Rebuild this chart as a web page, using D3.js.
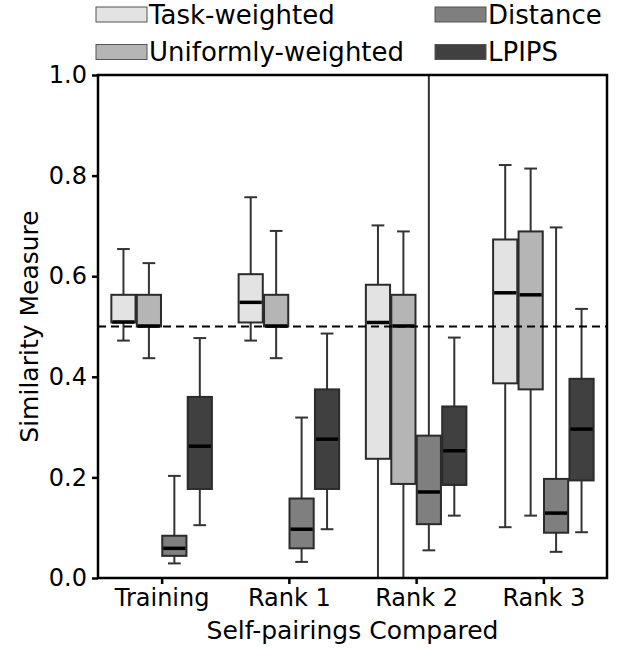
<!DOCTYPE html>
<html>
<head>
<meta charset="utf-8">
<script src="https://cdn.jsdelivr.net/npm/d3@7"></script>
<style>
  body { margin: 0; background: #fff; }
  text { font-family: "DejaVu Sans", sans-serif; }
</style>
</head>
<body>
<div id="chart"></div>
<script>
// groups on the x axis
let categories = ["Training", "Rank 1", "Rank 2", "Rank 3"];
let seriesNames = ["Task-weighted", "Uniformly-weighted", "Distance", "LPIPS"];
let seriesColors = ["#e3e3e3", "#b5b5b5", "#7f7f7f", "#404040"];
let yTicks = [0.0, 0.2, 0.4, 0.6, 0.8, 1.0];
let refLine = 0.5;

// [whisker low, q1, median, q3, whisker high] per category
let taskWeighted = [
	[0.472, 0.508, 0.509, 0.563, 0.654],
	[0.472, 0.508, 0.548, 0.604, 0.757],
	[-0.05, 0.237, 0.508, 0.583, 0.701],
	[0.101, 0.387, 0.567, 0.673, 0.821]
];
let uniformWeighted = [
	[0.437, 0.500, 0.501, 0.563, 0.626],
	[0.437, 0.500, 0.501, 0.563, 0.690],
	[-0.05, 0.187, 0.501, 0.563, 0.689],
	[0.124, 0.375, 0.563, 0.689, 0.814]
];
let distance = [
	[0.029, 0.044, 0.059, 0.084, 0.203],
	[0.032, 0.059, 0.097, 0.158, 0.319],
	[0.055, 0.107, 0.171, 0.283, 1.100],
	[0.052, 0.090, 0.129, 0.197, 0.697]
];
let lpips = [
	[0.105, 0.177, 0.262, 0.360, 0.477],
	[0.097, 0.177, 0.276, 0.375, 0.486],
	[0.124, 0.185, 0.253, 0.341, 0.478],
	[0.091, 0.194, 0.296, 0.396, 0.535]
];
let allSeries = [taskWeighted, uniformWeighted, distance, lpips];

let width = 627, height = 652;
let margin = {top: 75, right: 20, bottom: 74, left: 98};

let svg = d3.select("#chart").append("svg")
	.attr("width", width)
	.attr("height", height);

let x = d3.scaleLinear().domain([-0.5, categories.length - 0.5]).range([margin.left, width - margin.right]);
let y = d3.scaleLinear().domain([0, 1]).range([height - margin.bottom, margin.top]);

let offsets = [-0.3, -0.1, 0.1, 0.3];
let boxW = 0.19;
let capW = 0.1;

svg.append("clipPath").attr("id", "plotclip")
	.append("rect")
	.attr("x", x(-0.5)).attr("y", y(1))
	.attr("width", x(3.5) - x(-0.5)).attr("height", y(0) - y(1));

let plot = svg.append("g").attr("clip-path", "url(#plotclip)");

allSeries.forEach(function(data, s) {
	let g = plot.append("g");
	data.forEach(function(d, i) {
		let cx = i + offsets[s];
		let xc = x(cx);
		// whiskers
		g.append("line").attr("x1", xc).attr("x2", xc).attr("y1", y(d[0])).attr("y2", y(d[1]))
			.attr("stroke", "#333").attr("stroke-width", 2);
		g.append("line").attr("x1", xc).attr("x2", xc).attr("y1", y(d[3])).attr("y2", y(d[4]))
			.attr("stroke", "#333").attr("stroke-width", 2);
		// caps
		[d[0], d[4]].forEach(function(v) {
			g.append("line")
				.attr("x1", x(cx - capW / 2)).attr("x2", x(cx + capW / 2))
				.attr("y1", y(v)).attr("y2", y(v))
				.attr("stroke", "#333").attr("stroke-width", 2);
		});
		// box
		g.append("rect")
			.attr("x", x(cx - boxW / 2)).attr("width", x(boxW) - x(0))
			.attr("y", y(d[3])).attr("height", y(d[1]) - y(d[3]))
			.attr("fill", seriesColors[s])
			.attr("stroke", "#2b2b2b").attr("stroke-width", 2);
		// median
		g.append("line")
			.attr("x1", x(cx - boxW / 2) + 1).attr("x2", x(cx + boxW / 2) - 1)
			.attr("y1", y(d[2])).attr("y2", y(d[2]))
			.attr("stroke", "#000").attr("stroke-width", 3.5);
	});
});

// reference line
svg.append("line")
	.attr("x1", x(-0.5)).attr("x2", x(3.5))
	.attr("y1", y(refLine)).attr("y2", y(refLine))
	.attr("stroke", "#000").attr("stroke-width", 2)
	.attr("stroke-dasharray", "8,5");

// frame
svg.append("rect")
	.attr("x", x(-0.5)).attr("y", y(1))
	.attr("width", x(3.5) - x(-0.5)).attr("height", y(0) - y(1))
	.attr("fill", "none").attr("stroke", "#000").attr("stroke-width", 2.5);

// axes
let yAxis = svg.append("g")
	.attr("transform", "translate(" + x(-0.5) + ",0)")
	.call(d3.axisLeft(y).tickValues(yTicks).tickFormat(d3.format(".1f")).tickSize(6).tickPadding(5));
let xAxis = svg.append("g")
	.attr("transform", "translate(0," + y(0) + ")")
	.call(d3.axisBottom(x).tickValues(d3.range(categories.length)).tickFormat(function(i) { return categories[i]; }).tickSize(6).tickPadding(5));

[yAxis, xAxis].forEach(function(a) {
	a.select(".domain").remove();
	a.selectAll(".tick line").attr("stroke", "#000").attr("stroke-width", 2.5);
	a.selectAll(".tick text").attr("fill", "#000").style("font-size", "24px").style("font-family", "DejaVu Sans");
});

// axis titles
svg.append("text")
	.attr("x", (x(-0.5) + x(3.5)) / 2).attr("y", 639)
	.attr("text-anchor", "middle")
	.style("font-size", "25px")
	.text("Self-pairings Compared");
svg.append("text")
	.attr("transform", "translate(38," + (y(0) + y(1)) / 2 + ") rotate(-90)")
	.attr("text-anchor", "middle")
	.style("font-size", "25px")
	.text("Similarity Measure");

// legend, two columns
let legendPos = [[96, 14.5], [96, 52], [435, 14.5], [435, 52]];
seriesNames.forEach(function(name, s) {
	let p = legendPos[s];
	svg.append("rect")
		.attr("x", p[0]).attr("y", p[1] - 7.5)
		.attr("width", 51).attr("height", 15)
		.attr("fill", seriesColors[s])
		.attr("stroke", "#555").attr("stroke-width", 1);
	svg.append("text")
		.attr("x", p[0] + 53).attr("y", p[1])
		.attr("dy", "0.36em")
		.style("font-size", "26px")
		.text(name);
});
</script>
</body>
</html>
